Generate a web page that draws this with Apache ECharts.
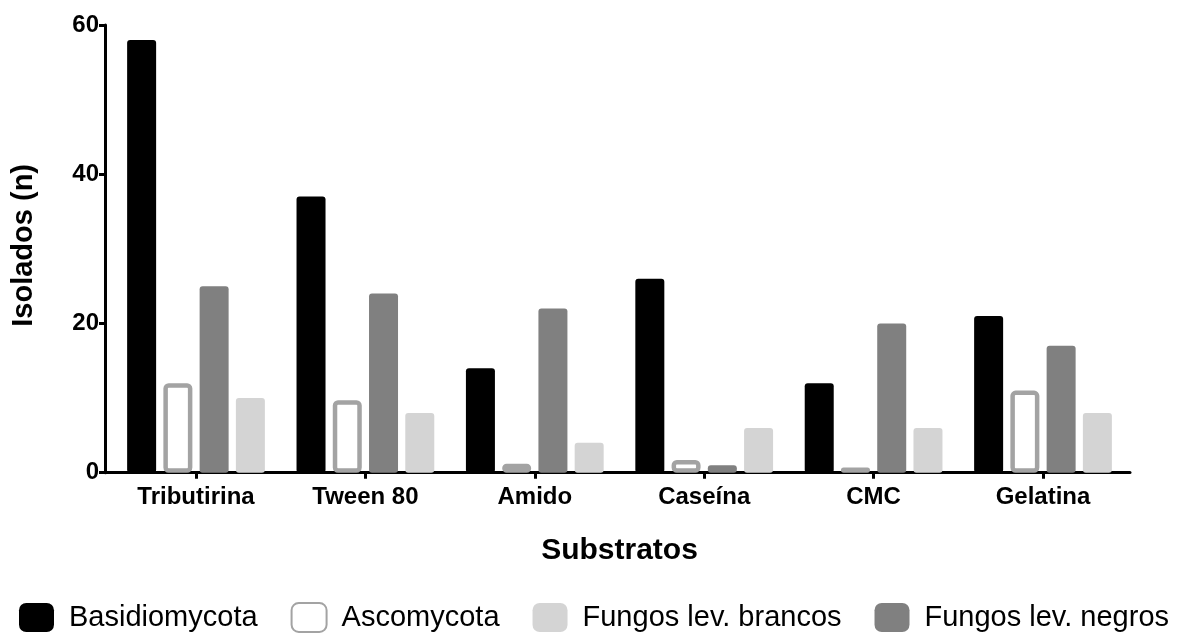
<!DOCTYPE html>
<html>
<head>
<meta charset="utf-8">
<script src="https://cdn.jsdelivr.net/npm/echarts@6/dist/echarts.min.js"></script>
<style>
html,body{margin:0;padding:0;background:#fff;}
#chart{width:1185px;height:633px;}
</style>
</head>
<body>
<div id="chart"></div>
<script>
const categories = ['Tributirina', 'Tween 80', 'Amido', 'Caseína', 'CMC', 'Gelatina'];
const basidiomycota = [58, 37, 14, 26, 12, 21];
const ascomycota = [12, 9.7, 1.2, 1.7, 0.7, 11];
const levNegros = [25, 24, 22, 1, 20, 17];
const levBrancos = [10, 8, 4, 6, 6, 8];
const yTicks = [0, 20, 40, 60];
const legendOrder = ['Basidiomycota', 'Ascomycota', 'Fungos lev. brancos', 'Fungos lev. negros'];

const FONT = "'Liberation Sans', Arial, sans-serif";

function solid(name, data, color) {
  return {
    name: name, type: 'bar', data: data,
    xAxisIndex: 0, yAxisIndex: 0,
    barWidth: 29, barGap: '25%',
    itemStyle: { color: color, borderRadius: 3 },
    emphasis: { disabled: true }
  };
}

const chart = echarts.init(document.getElementById('chart'));
chart.setOption({
  animation: false,
  backgroundColor: '#fff',
  textStyle: { fontFamily: FONT },
  grid: [
    { left: 111.3, right: 57.3, top: 25, bottom: 160.3 },
    { left: 105, right: 55, top: 25, bottom: 160.3 }
  ],
  legend: {
    data: legendOrder,
    left: 14, top: 597,
    itemWidth: 35, itemHeight: 29,
    itemGap: 33,
    icon: 'roundRect',
    textStyle: { fontFamily: FONT, fontSize: 29, color: '#000', padding: [0, 0, 0, 10] }
  },
  xAxis: [
    {
      type: 'category', data: categories, gridIndex: 0,
      axisLine: { show: false },
      axisTick: { show: true, alignWithLabel: true, length: 6, lineStyle: { color: '#000', width: 3 } },
      axisLabel: { color: '#000', fontSize: 24, fontWeight: 'bold', fontFamily: FONT, margin: 13 },
      name: 'Substratos', nameLocation: 'middle', nameGap: 63,
      nameTextStyle: { color: '#000', fontSize: 30, fontWeight: 'bold', fontFamily: FONT }
    },
    {
      type: 'value', gridIndex: 1, min: 0, max: 1,
      axisLine: { show: true, lineStyle: { color: '#000', width: 3 } },
      axisTick: { show: false }, axisLabel: { show: false }, splitLine: { show: false }
    }
  ],
  yAxis: [
    {
      type: 'value', gridIndex: 0, min: 0, max: 60, interval: 20, offset: 6.3,
      axisLine: { show: true, lineStyle: { color: '#000', width: 3 } },
      axisTick: { show: true, length: 6, lineStyle: { color: '#000', width: 3 } },
      axisLabel: {
        color: '#000', fontSize: 24, fontWeight: 'bold', fontFamily: FONT, margin: 6,
        formatter: function (v) { return yTicks.indexOf(v) >= 0 ? String(v) : ''; }
      },
      splitLine: { show: false },
      name: 'Isolados (n)', nameLocation: 'middle', nameGap: 67,
      nameTextStyle: { color: '#000', fontSize: 29, fontWeight: 'bold', fontFamily: FONT, padding: [0, 0, 0, 7] }
    },
    {
      type: 'value', gridIndex: 1, show: false, min: 0, max: 1
    }
  ],
  series: [
    solid('Basidiomycota', basidiomycota, '#000000'),
    {
      name: 'Ascomycota', type: 'bar', data: ascomycota,
      xAxisIndex: 0, yAxisIndex: 0,
      barWidth: 29, barGap: '25%',
      itemStyle: { color: '#ffffff', borderColor: '#a3a3a3', borderWidth: 4.5, borderRadius: 3 },
      emphasis: { disabled: true }
    },
    solid('Fungos lev. negros', levNegros, '#808080'),
    solid('Fungos lev. brancos', levBrancos, '#d4d4d4')
  ]
});
</script>
</body>
</html>
